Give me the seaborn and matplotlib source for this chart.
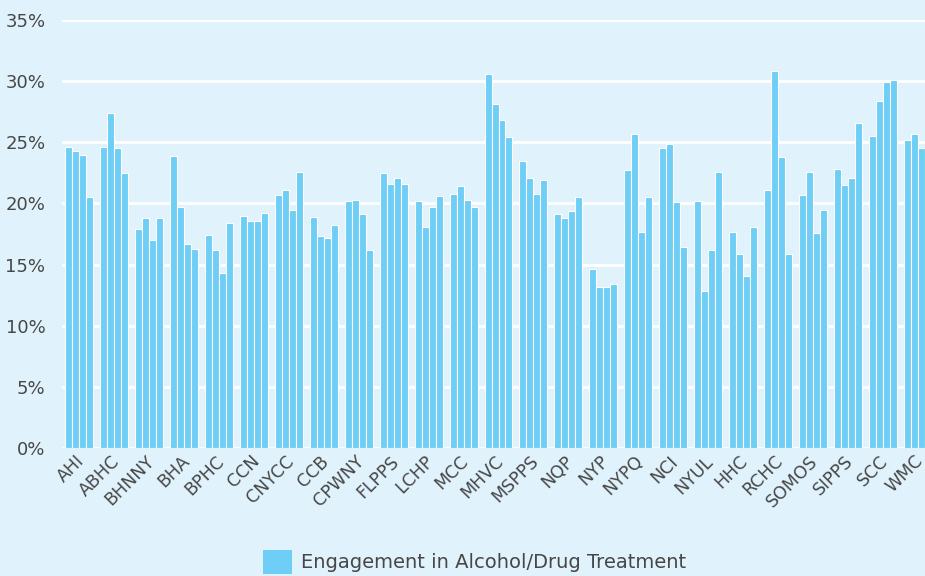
import matplotlib
matplotlib.use("Agg")
import matplotlib.pyplot as plt
import matplotlib.transforms as mtransforms
from matplotlib.patches import Patch
from matplotlib.ticker import FuncFormatter
import seaborn as sns
import pandas as pd

categories = ["AHI", "ABHC", "BHNNY", "BHA", "BPHC", "CCN", "CNYCC", "CCB", "CPWNY",
              "FLPPS", "LCHP", "MCC", "MHVC", "MSPPS", "NQP", "NYP", "NYPQ", "NCI",
              "NYUL", "HHC", "RCHC", "SOMOS", "SIPPS", "SCC", "WMC"]
periods = ["P1", "P2", "P3", "P4"]
series_p1 = [24.6, 24.6, 17.9, 23.9, 17.4, 19.0, 20.7, 18.9, 20.2, 22.5, 20.2, 20.8, 30.6,
             23.5, 19.1, 14.6, 22.7, 24.5, 20.2, 17.7, 21.1, 20.7, 22.8, 25.5, 25.2]
series_p2 = [24.3, 27.4, 18.8, 19.7, 16.2, 18.6, 21.1, 17.3, 20.3, 21.6, 18.1, 21.4, 28.1,
             22.1, 18.8, 13.2, 25.7, 24.9, 12.8, 15.9, 30.8, 22.6, 21.5, 28.4, 25.7]
series_p3 = [24.0, 24.5, 17.0, 16.7, 14.3, 18.6, 19.5, 17.2, 19.1, 22.1, 19.7, 20.3, 26.8,
             20.8, 19.4, 13.2, 17.7, 20.1, 16.2, 14.1, 23.8, 17.6, 22.1, 29.9, 24.5]
series_p4 = [20.5, 22.5, 18.8, 16.3, 18.4, 19.2, 22.6, 18.2, 16.2, 21.6, 20.6, 19.7, 25.4,
             21.9, 20.5, 13.4, 20.5, 16.4, 22.6, 18.1, 15.9, 19.5, 26.6, 30.1, 24.5]
legend_label = "Engagement in Alcohol/Drug Treatment"

rows = []
for per, vals in zip(periods, [series_p1, series_p2, series_p3, series_p4]):
    for c, v in zip(categories, vals):
        rows.append({"category": c, "period": per, "value": v / 100})
df = pd.DataFrame(rows)

bg = "#E0F2FB"
bar_color = "#6ECEF5"
text_color = "#474747"

sns.set_theme(style="white")
plt.rcParams["font.family"] = ["DejaVu Sans"]

W, H = 925, 576
fig = plt.figure(figsize=(W / 100, H / 100), dpi=100, facecolor=bg)
ax = fig.add_axes([62 / W, (H - 448) / H, 873 / W, (448 - 20) / H])
ax.set_facecolor(bg)

sns.barplot(data=df, x="category", y="value", hue="period", hue_order=periods,
            order=categories, palette=[bar_color] * 4, width=0.8, legend=False,
            saturation=1, edgecolor="white", linewidth=0.8, ax=ax, zorder=3)

ax.set_ylim(0, 0.35)
ax.set_xlim(-0.5, len(categories) - 0.5)
ax.set_yticks([i * 0.05 for i in range(8)])
ax.yaxis.set_major_formatter(FuncFormatter(lambda v, p: f"{v * 100:.0f}%"))
ax.grid(axis="y", color="white", linewidth=2, zorder=0)
ax.grid(axis="x", visible=False)
for s in ax.spines.values():
    s.set_visible(False)
ax.tick_params(axis="both", length=0, colors=text_color)
ax.tick_params(axis="y", labelsize=13, pad=12)
ax.tick_params(axis="x", labelsize=12.5, pad=3)
offset = mtransforms.ScaledTranslation(-4 / 100, 0, fig.dpi_scale_trans)
for lbl in ax.get_xticklabels():
    lbl.set_rotation(45)
    lbl.set_ha("right")
    lbl.set_rotation_mode("anchor")
    lbl.set_transform(lbl.get_transform() + offset)
ax.set_xlabel("")
ax.set_ylabel("")

fig.legend(handles=[Patch(facecolor=bar_color, edgecolor="none", label=legend_label)],
           loc="center", bbox_to_anchor=(475 / W, (H - 562) / H), frameon=False,
           fontsize=14, labelcolor=text_color, handlelength=1.45, handleheight=1.45,
           handletextpad=0.5, borderpad=0)

fig.savefig("out.png", dpi=100, facecolor=bg)
